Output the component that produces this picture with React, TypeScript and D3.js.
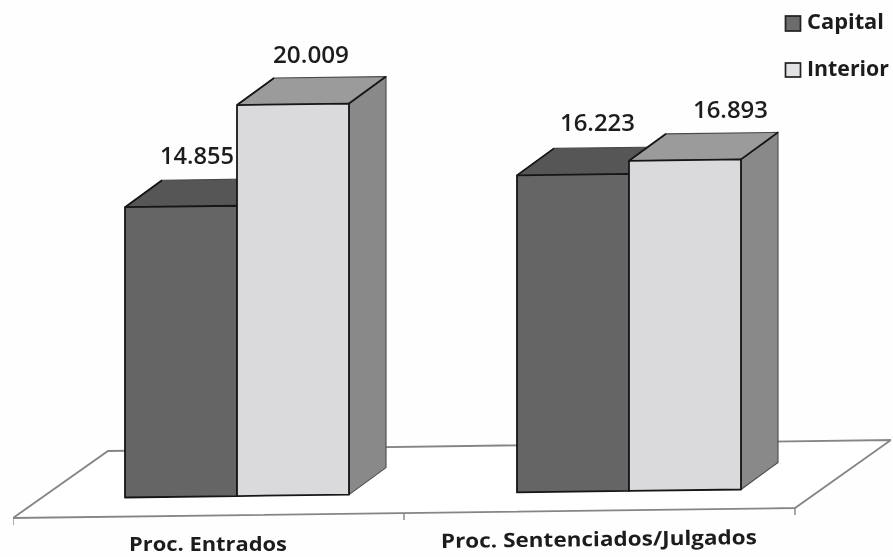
import React from "react";
import * as d3 from "d3";

const groups = ["Proc. Entrados", "Proc. Sentenciados/Julgados"];
const capital = [14855, 16223];
const interior = [20009, 16893];
const seriesNames = ["Capital", "Interior"];
const valueLabels = [["14.855", "16.223"], ["20.009", "16.893"]];

const W = 893, H = 557;
const tilt = 0.013;
const baseAt = (x: number) => 497.5 - tilt * (x - 125);
const yScale = d3.scaleLinear().domain([0, 20009]).range([0, 391]);
const xGroup = d3.scaleOrdinal<number, number>().domain([0, 1]).range([125, 517]);
const barW = 112;
const depthX = 37, depthY = 27;
const line = d3.line<[number, number]>();

const palette = [
  { front: "#656565", top: "#565656", side: "#858585" },
  { front: "#dadadc", top: "#9b9b9b", side: "#898989" },
];

function Bar({ x, value, s }: { x: number; value: number; s: number }) {
  const x2 = x + barW;
  const h = yScale(value);
  const b1 = baseAt(x), b2 = baseAt(x2);
  const t1 = b1 - h, t2 = b2 - h;
  const p = palette[s];
  const soft = { stroke: "#4a4a4a", strokeWidth: 1.1, strokeLinejoin: "round" as const };
  const hard = { stroke: "#161616", strokeWidth: 1.8, strokeLinejoin: "round" as const };
  return (
    <g>
      <path d={line([[x, t1], [x + depthX, t1 - depthY], [x2 + depthX, t2 - depthY], [x2, t2]])! + "Z"} fill={p.top} {...soft} />
      <path d={line([[x2, t2], [x2 + depthX, t2 - depthY], [x2 + depthX, b2 - depthY], [x2, b2]])! + "Z"} fill={p.side} {...soft} />
      <path d={line([[x, t1], [x + depthX, t1 - depthY]])!} fill="none" {...hard} />
      <path d={line([[x2, t2], [x2 + depthX, t2 - depthY]])!} fill="none" {...hard} />
      <path d={line([[x, t1], [x2, t2], [x2, b2], [x, b1]])! + "Z"} fill={p.front} {...hard} />
    </g>
  );
}

const font = "'Open Sans', 'Noto Sans', sans-serif";
const floorPts: [number, number][] = [[13, 518], [108, 451], [891, 440], [795, 508]];
const ticks: [number, number, number][] = [[13, 518, 525], [404, 513, 520], [795, 508, 515]];

export default function App() {
  return (
    <svg width={W} height={H} viewBox={`0 0 ${W} ${H}`} style={{ position: "absolute", left: 0, top: 0, background: "#fefefe" }}>
      <defs>
        <filter id="scan" x="0" y="0" width="100%" height="100%">
          <feGaussianBlur stdDeviation="0.5" />
        </filter>
      </defs>
      <g filter="url(#scan)">
        <path d={line(floorPts)! + "Z"} fill="#ffffff" stroke="#858585" strokeWidth={1.8} />
        {ticks.map(([x, a, b], i) => (
          <line key={i} x1={x} x2={x} y1={a} y2={b} stroke="#858585" strokeWidth={1.4} />
        ))}
        {groups.map((_, i) => (
          <g key={i}>
            <Bar x={xGroup(i)} value={capital[i]} s={0} />
            <Bar x={xGroup(i) + barW} value={interior[i]} s={1} />
          </g>
        ))}
        <g fontFamily={font} fontWeight={600} fontSize={23} fill="#1e1e1e">
          <text x={160} y={164} textLength={74} lengthAdjust="spacingAndGlyphs">{valueLabels[0][0]}</text>
          <text x={273} y={63} textLength={76} lengthAdjust="spacingAndGlyphs">{valueLabels[1][0]}</text>
          <text x={560} y={131} textLength={75} lengthAdjust="spacingAndGlyphs">{valueLabels[0][1]}</text>
          <text x={693} y={118} textLength={75} lengthAdjust="spacingAndGlyphs">{valueLabels[1][1]}</text>
        </g>
        <g fontFamily={font} fontWeight={700} fontSize={20} fill="#1e1e1e">
          <text x={129} y={551} textLength={158} lengthAdjust="spacingAndGlyphs">{groups[0]}</text>
          <text x={441} y={548} textLength={316} lengthAdjust="spacingAndGlyphs" transform="rotate(-0.7 441 548)">{groups[1]}</text>
        </g>
        <g>
          <rect x={785.5} y={16} width={15} height={15} fill="#6c6c6c" stroke="#222" strokeWidth={1.7} />
          <rect x={785.5} y={63} width={15} height={14} fill="#e2e2e4" stroke="#222" strokeWidth={1.7} />
          <g fontFamily={font} fontWeight={700} fontSize={21} fill="#1e1e1e">
            <text x={807} y={29} textLength={77} lengthAdjust="spacingAndGlyphs">{seriesNames[0]}</text>
            <text x={807} y={76} textLength={82} lengthAdjust="spacingAndGlyphs">{seriesNames[1]}</text>
          </g>
        </g>
      </g>
    </svg>
  );
}
